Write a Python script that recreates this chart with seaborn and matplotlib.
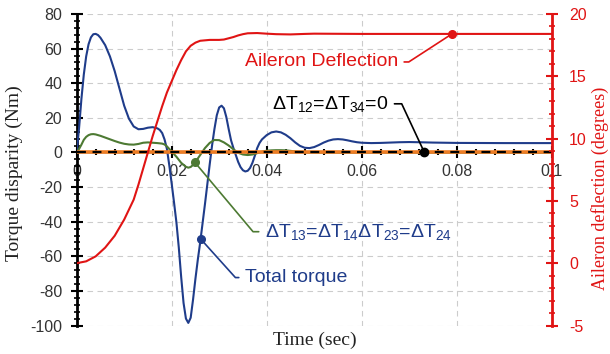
import numpy as np
import matplotlib
matplotlib.use('Agg')
import matplotlib.pyplot as plt
from matplotlib.ticker import MultipleLocator, FuncFormatter
import seaborn as sns

sns.set_style('white')
plt.rcParams['font.family'] = ['Liberation Sans', 'DejaVu Sans']
plt.rcParams['mathtext.default'] = 'regular'
plt.rcParams['axes.unicode_minus'] = False

# total torque (Nm) vs time (sec)
total_t = [0, 0.0005, 0.001, 0.0015, 0.002, 0.0025, 0.003, 0.0035, 0.004, 0.0045,
           0.005, 0.006, 0.007, 0.008, 0.009, 0.010, 0.011, 0.012, 0.013, 0.014,
           0.015, 0.016, 0.017, 0.0175, 0.018, 0.0185, 0.019, 0.0195, 0.020, 0.0205,
           0.021, 0.0215, 0.022, 0.0225, 0.023, 0.0235, 0.024, 0.0245, 0.025, 0.0255,
           0.026, 0.0265, 0.027, 0.0275, 0.028, 0.0285, 0.029, 0.0295, 0.030, 0.0305,
           0.031, 0.0315, 0.032, 0.0325, 0.033, 0.0335, 0.034, 0.0345, 0.035, 0.0355,
           0.036, 0.0365, 0.037, 0.0375, 0.038, 0.0385, 0.039, 0.040, 0.041, 0.042,
           0.043, 0.044, 0.045, 0.046, 0.047, 0.048, 0.049, 0.050, 0.051, 0.052,
           0.053, 0.054, 0.055, 0.056, 0.057, 0.058, 0.059, 0.060, 0.062, 0.064,
           0.066, 0.068, 0.070, 0.072, 0.075, 0.080, 0.090, 0.100]
total_torque = [0, 14, 31, 45, 55.5, 62.5, 66.5, 68.3, 68.5, 67.8,
                66.3, 62, 55.5, 47, 37, 27, 19.5, 15, 13.4, 13.6,
                14.3, 14.6, 13.9, 13, 11.2, 7.5, 2, -7.5, -18, -29,
                -40.5, -55, -72, -87, -96, -98.5, -95.5, -85, -73, -62,
                -52, -41, -30, -18.5, -7, 4, 13.5, 21.5, 26, 27,
                25.5, 20.5, 13.5, 7, 2.5, -1.5, -5.5, -8.5, -10.3, -11,
                -10.6, -9, -6, -2, 2.5, 5.5, 7.5, 10, 11.6, 12.1,
                11.6, 10.2, 8.2, 5.8, 3.8, 2.7, 2.5, 3.1, 4.3, 5.7,
                6.8, 7.5, 7.7, 7.5, 7.0, 6.4, 5.9, 5.6, 5.4, 5.5,
                5.7, 5.9, 6.0, 5.9, 5.7, 5.5, 5.4, 5.4]

# dT13 = dT14 = dT23 = dT24 (Nm)
d13_t = [0, 0.0005, 0.001, 0.0015, 0.002, 0.0025, 0.003, 0.0035, 0.004, 0.005,
         0.006, 0.007, 0.008, 0.009, 0.010, 0.011, 0.012, 0.013, 0.014, 0.015,
         0.016, 0.017, 0.018, 0.0185, 0.019, 0.0195, 0.020, 0.021, 0.022, 0.023,
         0.0235, 0.024, 0.0245, 0.025, 0.026, 0.027, 0.028, 0.029, 0.030, 0.031,
         0.032, 0.033, 0.034, 0.035, 0.036, 0.037, 0.038, 0.039, 0.040, 0.041,
         0.042, 0.043, 0.044, 0.045, 0.046, 0.047, 0.048, 0.050, 0.100]
d13_torque = [0, 2, 4.5, 7.3, 9, 10, 10.5, 10.6, 10.4, 9.6,
              8.6, 7.6, 6.6, 5.7, 5, 4.6, 4.5, 4.9, 5.6, 5.8,
              5.6, 5.4, 5.1, 4.6, 3.5, 2, 0.5, -2.5, -6, -8.3,
              -8.8, -8.4, -7.2, -5.5, -1.5, 2.5, 5.5, 7.2, 7.1, 5.8,
              4, 1.8, -0.2, -1.2, -1.5, -1.2, -0.4, 0.4, 1, 1.2,
              1.3, 1.3, 1.2, 0.9, 0.6, 0.4, 0.2, 0, 0]

# dT12 = dT34 = 0
zero_t = [0.0, 0.1]
zero_torque = [0.0, 0.0]

# aileron deflection (degrees)
ail_t = [0, 0.002, 0.004, 0.006, 0.008, 0.010, 0.011, 0.012, 0.013, 0.014,
         0.015, 0.016, 0.017, 0.018, 0.019, 0.020, 0.021, 0.022, 0.023, 0.024,
         0.025, 0.026, 0.028, 0.030, 0.031, 0.032, 0.033, 0.034, 0.035, 0.036,
         0.038, 0.040, 0.042, 0.045, 0.048, 0.050, 0.060, 0.070, 0.080, 0.100]
ail_deg = [0, 0.15, 0.55, 1.25, 2.2, 3.5, 4.3, 5.1, 6.3, 7.6,
           8.9, 10.2, 11.4, 12.6, 13.7, 14.6, 15.5, 16.3, 17.0, 17.45,
           17.7, 17.85, 17.92, 17.92, 17.95, 18.05, 18.15, 18.28, 18.38, 18.45,
           18.47, 18.42, 18.38, 18.36, 18.4, 18.42, 18.4, 18.4, 18.4, 18.4]

# callout points (time, value)
ail_pt = (0.079, 18.4)
zero_pt = (0.0732, 0.0)
d13_pt = (0.0249, -5.8)
total_pt = (0.0261, -50.0)

navy = '#1f3c8a'
green = '#4d7a33'
red = '#e01414'
orange = '#ee7d24'

fig = plt.figure(figsize=(6.1, 3.54), dpi=100)
ax = fig.add_axes([0.1257, 0.0805, 0.7787, 0.88])
ax2 = ax.twinx()

sns.lineplot(x=total_t, y=total_torque, ax=ax, color=navy, linewidth=1.5, zorder=3)
sns.lineplot(x=d13_t, y=d13_torque, ax=ax, color=green, linewidth=1.5, zorder=3)
sns.lineplot(x=zero_t, y=zero_torque, ax=ax, color=orange, linewidth=2.6, zorder=4)
sns.lineplot(x=zero_t, y=zero_torque, ax=ax, color='black', linewidth=1.6,
             dashes=False, zorder=5).lines[-1].set_dashes((4, 3))
sns.lineplot(x=ail_t, y=ail_deg, ax=ax2, color=red, linewidth=1.5)

ax.plot(*zero_pt, 'o', color='black', markersize=6, zorder=6)
ax.plot(*d13_pt, 'o', color=green, markersize=5.5, zorder=6)
ax.plot(*total_pt, 'o', color=navy, markersize=5.5, zorder=6)
ax2.plot(*ail_pt, 'o', color=red, markersize=5.5, zorder=6)

# axes ranges and ticks
ax.set_xlim(0, 0.1)
ax.set_ylim(-100, 80)
ax2.set_ylim(-5, 20)
ax.xaxis.set_major_locator(MultipleLocator(0.02))
ax.xaxis.set_minor_locator(MultipleLocator(0.004))
ax.xaxis.set_major_formatter(FuncFormatter(lambda v, p: f'{v:g}'))
ax.yaxis.set_major_locator(MultipleLocator(20))
ax.yaxis.set_minor_locator(MultipleLocator(4))
ax2.yaxis.set_major_locator(MultipleLocator(5))
ax2.yaxis.set_minor_locator(MultipleLocator(1))

ax.grid(True, which='major', color='#cccccc', linestyle=(0, (5, 4)), linewidth=0.8)
ax2.grid(False)

for s in ['top', 'right']:
    ax.spines[s].set_visible(False)
ax.spines['left'].set_linewidth(2)
ax.spines['left'].set_color('black')
ax.spines['bottom'].set_position(('data', 0))
ax.spines['bottom'].set_color('black')
ax.spines['bottom'].set_linewidth(1)
for s in ['top', 'left', 'bottom']:
    ax2.spines[s].set_visible(False)
ax2.spines['right'].set_linewidth(2)
ax2.spines['right'].set_color(red)

ax.tick_params(axis='x', which='major', bottom=True, direction='inout', length=8, width=1.5,
               color='black', pad=4, labelsize=11.5, labelcolor='#333333')
ax.tick_params(axis='x', which='minor', bottom=True, direction='inout', length=5, width=1.5,
               color='black')
ax.tick_params(axis='y', which='major', left=True, direction='inout', length=9, width=1.5,
               color='black', pad=6, labelsize=11.5, labelcolor='#333333')
ax.tick_params(axis='y', which='minor', left=True, direction='inout', length=5, width=1.2,
               color='black')
ax2.tick_params(axis='y', which='major', right=True, direction='inout', length=9, width=1.5,
                color=red, pad=8, labelsize=11.5, labelcolor=red)
ax2.tick_params(axis='y', which='minor', right=True, direction='inout', length=5, width=1.2,
                color=red)

ax.set_xlabel('Time (sec)', family='Liberation Serif', fontsize=14, color='#222222')
ax.xaxis.set_label_coords(0.502, -0.02)
ax.set_ylabel('Torque disparity (Nm)', family='Liberation Serif', fontsize=14, color='#222222')
ax.yaxis.set_label_coords(-0.112, 0.49)
ax2.set_ylabel('Aileron deflection (degrees)', family='Liberation Serif', fontsize=13,
               color=red, rotation=90)
ax2.yaxis.set_label_coords(1.082, 0.44)

# callouts
ax2.annotate('Aileron Deflection', xy=ail_pt, xytext=(0.0354, 16.15), color=red,
             fontsize=14, ha='left', va='center',
             arrowprops=dict(arrowstyle='-', color=red, lw=1.2, shrinkB=0,
                             connectionstyle='angle,angleA=0,angleB=33,rad=0'))
ax.annotate('ΔT$_{12}$=ΔT$_{34}$=0', xy=zero_pt, xytext=(0.0411, 28.1), color='black',
            fontsize=14, ha='left', va='center', zorder=7,
            arrowprops=dict(arrowstyle='-', color='black', lw=1.2, shrinkB=0,
                            connectionstyle='angle,angleA=0,angleB=115,rad=0'))
ax.annotate('ΔT$_{13}$=ΔT$_{14}$ΔT$_{23}$=ΔT$_{24}$', xy=d13_pt, xytext=(0.0396, -45.8),
            color=navy, fontsize=14, ha='left', va='center', zorder=7,
            arrowprops=dict(arrowstyle='-', color=green, lw=1.2, shrinkB=0,
                            connectionstyle='angle,angleA=0,angleB=-50,rad=0'))
ax.annotate('Total torque', xy=total_pt, xytext=(0.0354, -72.3), color=navy,
            fontsize=14, ha='left', va='center', zorder=7,
            arrowprops=dict(arrowstyle='-', color=navy, lw=1.2, shrinkB=0,
                            connectionstyle='angle,angleA=0,angleB=-48,rad=0'))

fig.savefig('out.png', dpi=100)
